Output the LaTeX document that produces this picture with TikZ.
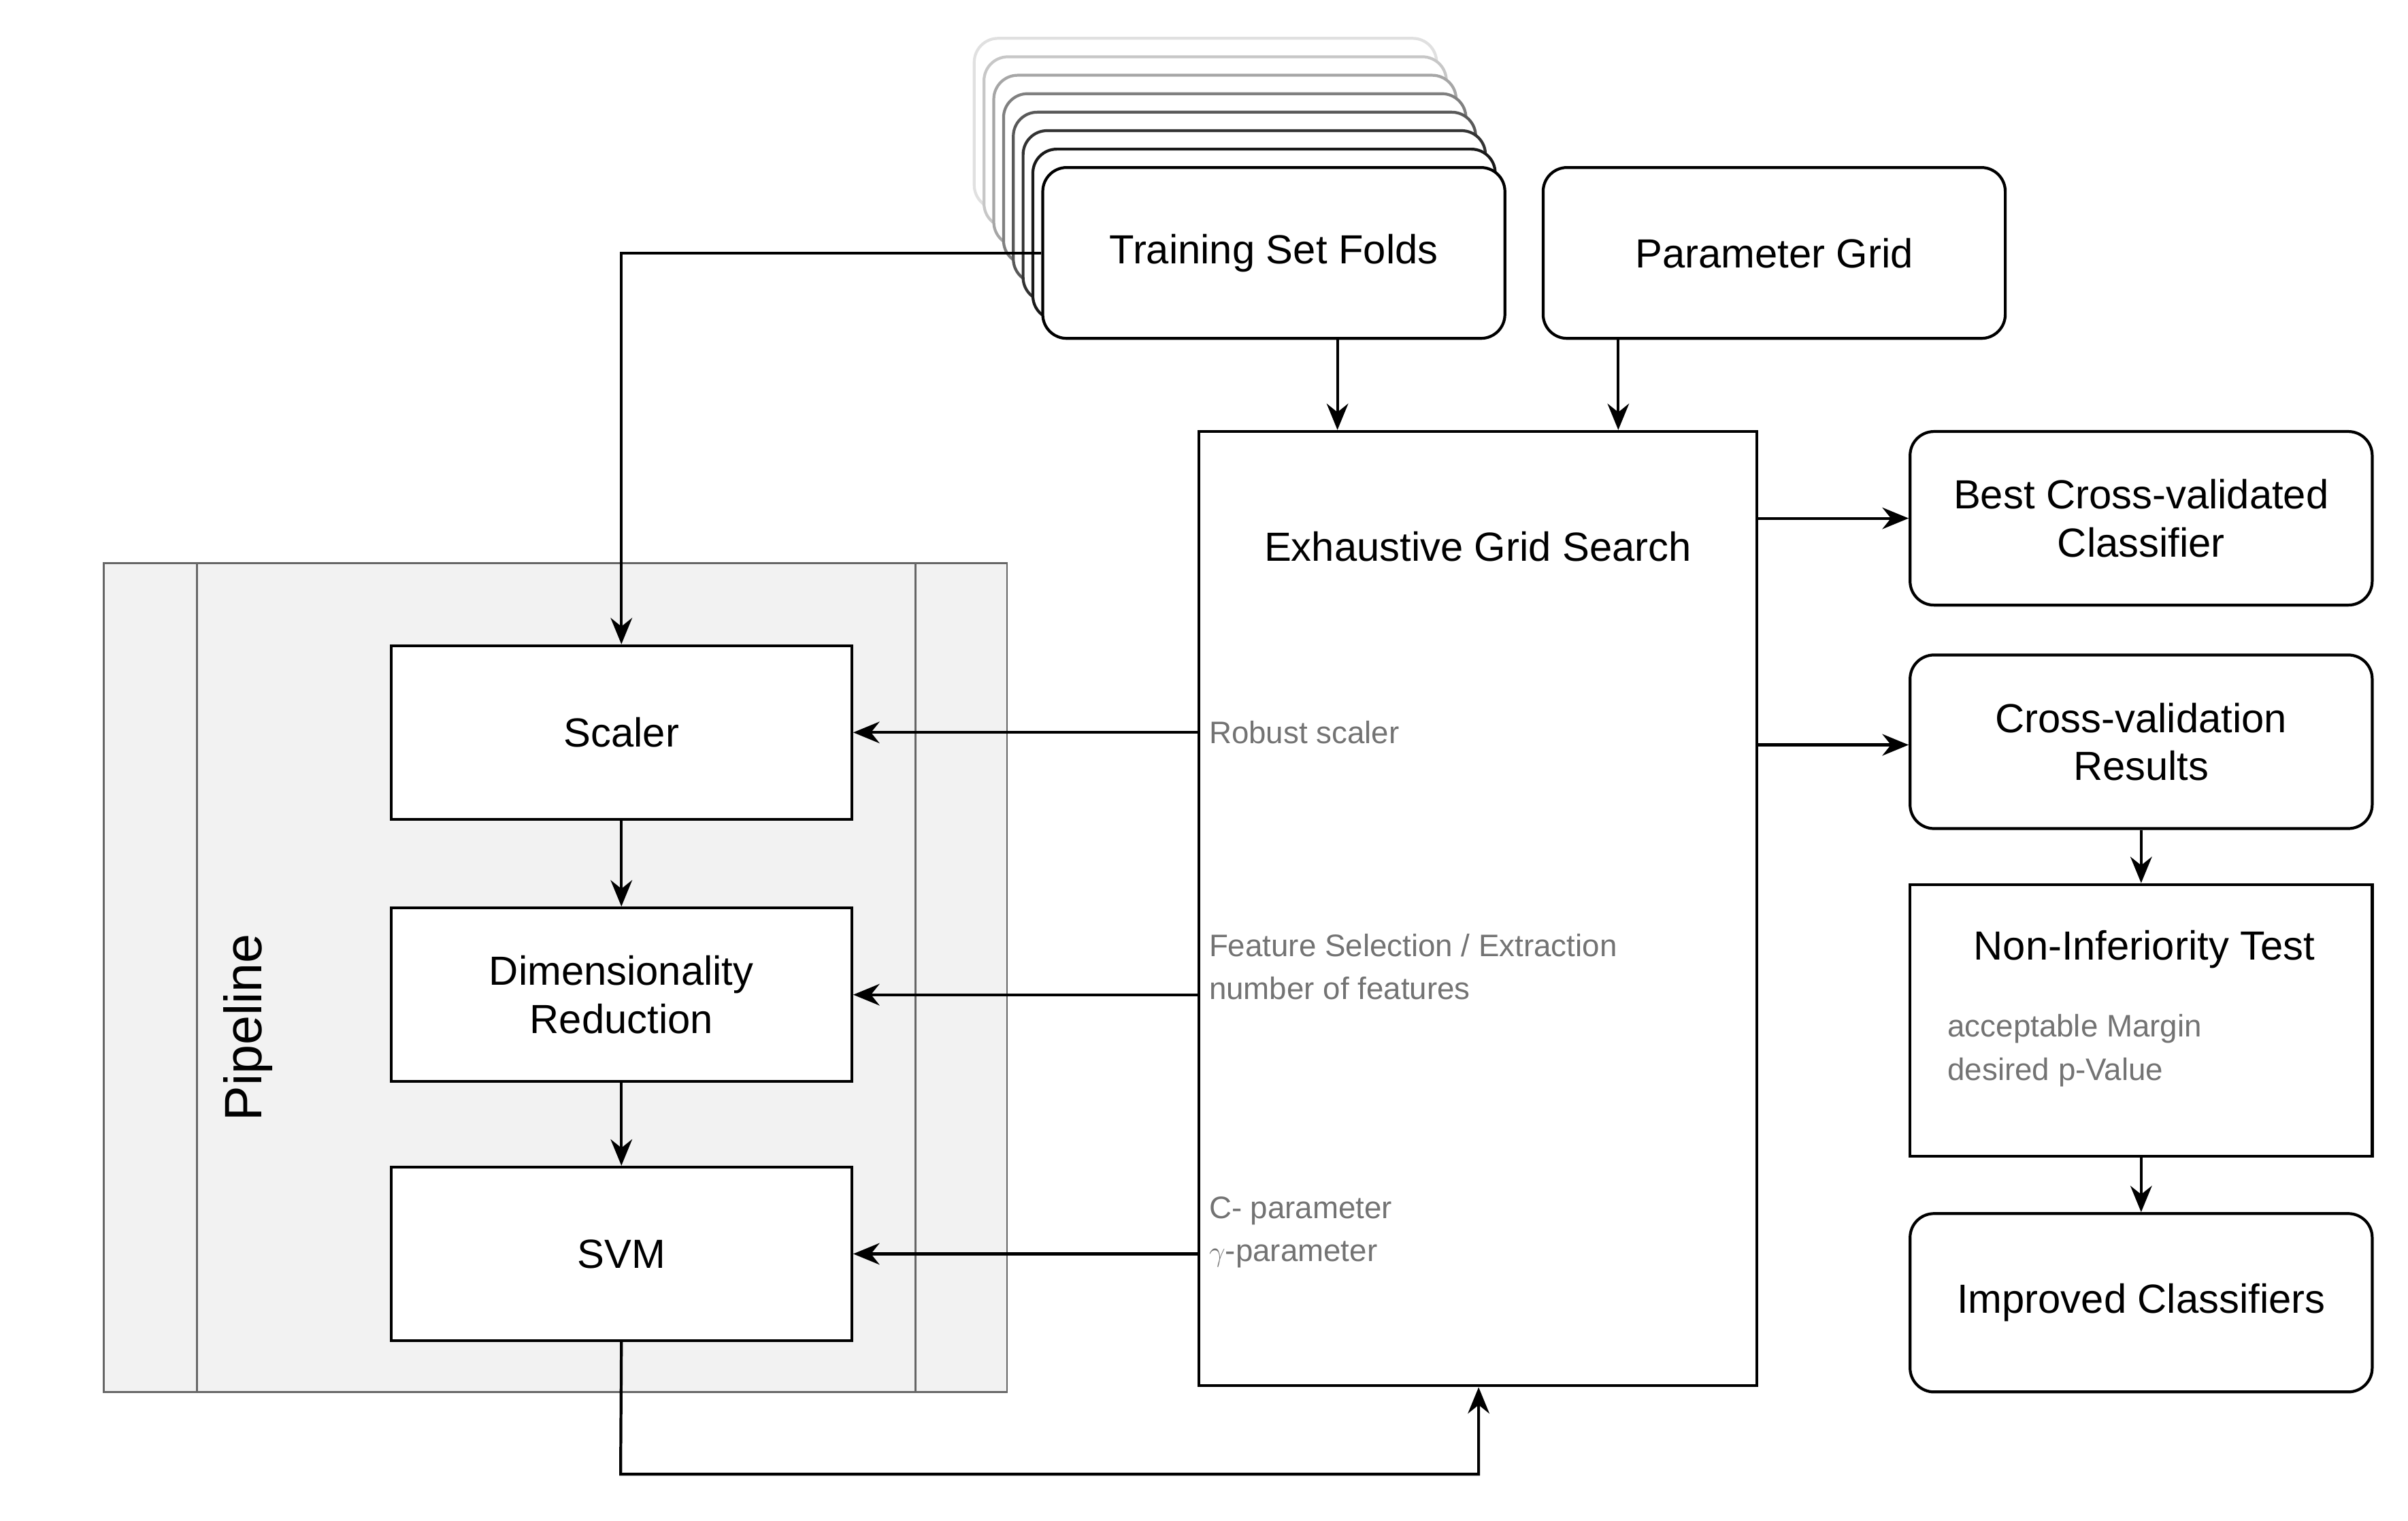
\documentclass[tikz,border=0pt]{standalone}
\usepackage{fontspec}
\setmainfont{Liberation Sans}
\usetikzlibrary{arrows.meta}
\begin{document}
\begin{tikzpicture}[x=0.0228cm,y=-0.0228cm,
  box/.style={draw=black,line width=1.2pt,fill=white,align=center,font=\fontsize{17}{20}\selectfont,inner sep=0pt},
  rbox/.style={box,rounded corners=10pt},
  lab/.style={anchor=west,text=black!55,font=\fontsize{13}{16}\selectfont,align=left,inner sep=0pt},
  arr/.style={line width=1.2pt,-{Stealth[length=11pt,width=9pt]}}]
\useasboundingbox (0,0) rectangle (1552,980);
% pipeline panel
\draw[black!60,fill=black!5,line width=0.8pt] (67,363) rectangle (649,897);
\draw[black!60,line width=0.8pt] (127,363) -- (127,897) (590,363) -- (590,897);
\node[rotate=90,font=\fontsize{22}{26}\selectfont] (pl) at (160,662) {Pipeline};
% stacked folds
\foreach \k/\c in {7/12,6/22,5/35,4/50,3/65,2/80,1/90}{
  \draw[rounded corners=10pt,line width=1.2pt,draw=black!\c,fill=white]
    ({672-6.3*\k},{108-11.9*\k}) rectangle ({970-6.3*\k},{218-11.9*\k});
}
\node[rbox,minimum width=6.79cm,minimum height=2.51cm] (train) at (821,163) {Training Set Folds};
\node[rbox,minimum width=6.79cm,minimum height=2.51cm] (param) at (1143.5,163) {Parameter Grid};
\node[box,minimum width=8.19cm,minimum height=14.02cm] (grid) at (952.5,585.5) {};
\node[font=\fontsize{17}{20}\selectfont] (gtitle) at (952.5,352) {Exhaustive Grid Search};
\node[lab] (l1) at (779,472) {Robust scaler};
\node[lab] (l2) at (779,623) {Feature Selection / Extraction\\[2pt]number of features};
\node[lab] (l3) at (779,794) {C- parameter\\[2pt]$\gamma$-parameter};
\node[box,minimum width=6.77cm,minimum height=2.55cm] (scaler) at (400.5,472) {Scaler};
\node[box,minimum width=6.77cm,minimum height=2.55cm] (dim) at (400.5,641) {Dimensionality\\Reduction};
\node[box,minimum width=6.77cm,minimum height=2.55cm] (svm) at (400.5,808) {SVM};
\node[rbox,minimum width=6.79cm,minimum height=2.55cm] (best) at (1380,334) {Best Cross-validated\\Classifier};
\node[rbox,minimum width=6.79cm,minimum height=2.55cm] (cv) at (1380,478) {Cross-validation\\Results};
\node[box,minimum width=6.79cm,minimum height=3.99cm] (nit) at (1380,657.5) {};
\node[font=\fontsize{17}{20}\selectfont] (nitt) at (1382,612) {Non-Inferiority Test};
\node[lab] (nitl) at (1255,677) {acceptable Margin\\[2pt]desired p-Value};
\node[rbox,minimum width=6.79cm,minimum height=2.62cm] (imp) at (1380,839.5) {Improved Classifiers};
% connectors
\draw[arr] (train.west) -| (scaler.north);
\draw[arr] (train.south -| 862,0) -- (grid.north -| 862,0);
\draw[arr] (param.south -| 1043,0) -- (grid.north -| 1043,0);
\draw[arr] (grid.east |- best.west) -- (best.west);
\draw[arr] (grid.east |- 0,480) -- (cv.west |- 0,480);
\draw[arr] (cv.south) -- (nit.north);
\draw[arr] (nit.south) -- (imp.north);
\draw[arr] (grid.west |- scaler.east) -- (scaler.east);
\draw[arr] (grid.west |- dim.east) -- (dim.east);
\draw[arr] (grid.west |- svm.east) -- (svm.east);
\draw[arr] (scaler.south) -- (dim.north);
\draw[arr] (dim.south) -- (svm.north);
\coordinate (c1) at (400,950);
\draw[arr] (svm.south) -- (c1) -| (grid.south -| 953,0);
\end{tikzpicture}
\end{document}
